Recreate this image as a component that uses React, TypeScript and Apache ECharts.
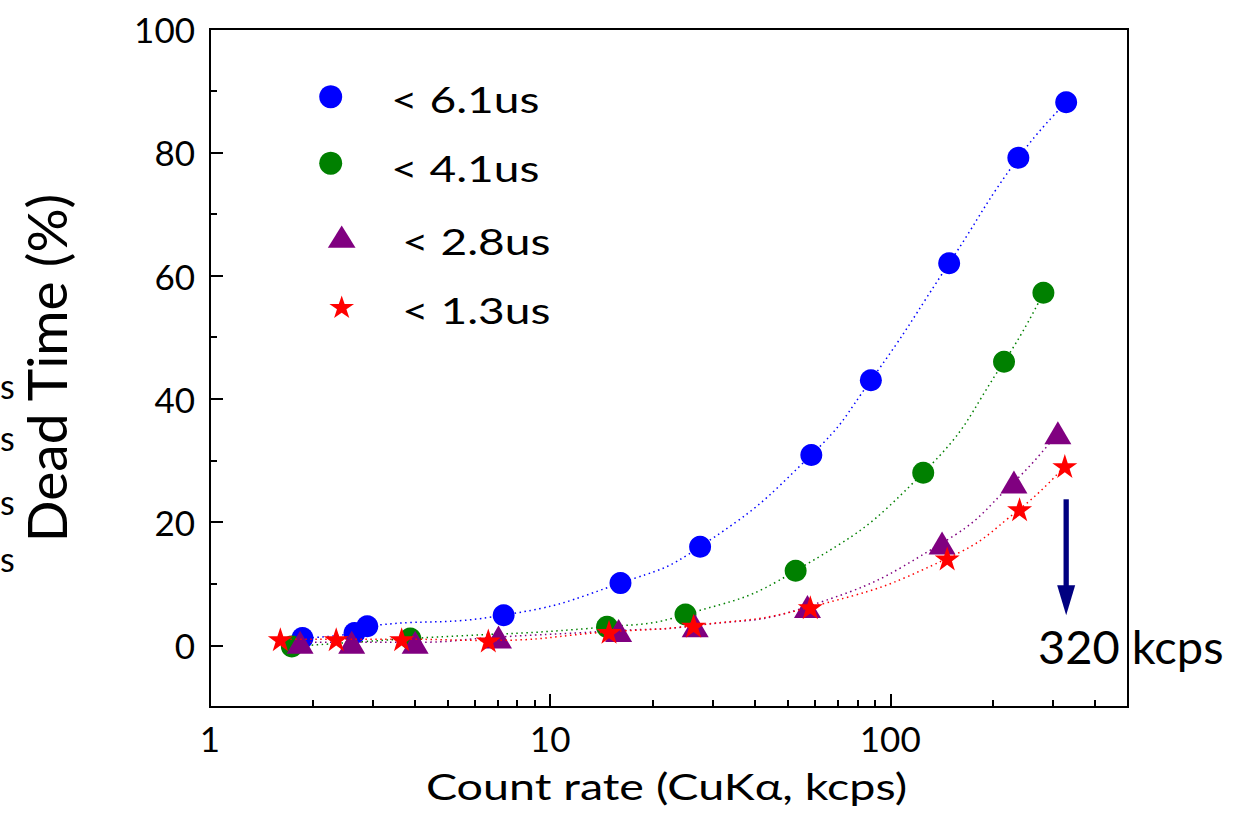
import { useEffect, useRef } from 'react';
import * as echarts from 'echarts';

// ---------- data ----------
const SERIES_NAMES = ['< 6.1us', '< 4.1us', '< 2.8us', '< 1.3us'];

const blueX = [1.87, 2.66, 2.9, 7.3, 16.1, 27.6, 58.6, 87.7, 149, 238, 329];
const blueY = [1.2, 2.0, 3.1, 4.9, 10.1, 16.0, 30.9, 43.0, 62.0, 79.1, 88.1];

const greenX = [1.74, 3.88, 14.7, 25.0, 52.7, 125, 216, 282];
const greenY = [-0.2, 1.1, 3.0, 5.0, 12.1, 28.0, 46.0, 57.2];

const purpleX = [1.84, 2.61, 4.01, 7.05, 15.9, 26.7, 57.1, 142, 231, 311];
const purpleY = [0.5, 0.5, 0.5, 1.35, 2.4, 3.2, 6.3, 16.6, 26.5, 34.5];

const redX = [1.61, 2.35, 3.66, 6.58, 14.9, 26.4, 58.2, 147, 240, 326];
const redY = [1.0, 1.0, 1.0, 0.8, 2.2, 3.2, 6.2, 14.1, 22.1, 29.1];

const X_MINOR_TICKS = [2, 3, 4, 5, 6, 7, 8, 9, 20, 30, 40, 50, 60, 70, 80, 90, 200, 300, 400];
const Y_LABELS = [0, 20, 40, 60, 80, 100];
const Y_MINOR_TICKS = [10, 30, 50, 70, 90];

const ARROW_X = 329;
const ARROW_FROM = 23.7;
const ARROW_TO = 4.9;
const ARROW_LABEL = '320 kcps';

const Y_TITLE = 'Dead Time (%)';
const X_TITLE = 'Count rate (CuK\u03b1, kcps)';
const CLIPPED_TEXTS = ['s', 's', 's', 's'];

// ---------- styles ----------
const COLORS = ['#0000ff', '#008000', '#800080', '#ff0000'];
const FONT = 'Lato';
const STAR_PTS: [number, number][] = [
  [50, 0], [61.2, 34.5], [97.6, 34.5], [68.2, 55.9], [79.4, 90.5],
  [50, 69.1], [20.6, 90.5], [31.8, 55.9], [2.4, 34.5], [38.8, 34.5],
];
const STAR_PATH =
  'path://M' + STAR_PTS.map((p) => p[0] + ',' + p[1]).join(' L') + ' Z';

const zip = (xs: number[], ys: number[]) => xs.map((x, i) => [x, ys[i]]);

function starPolygon(cx: number, cy: number, w: number, h: number) {
  const minX = 2.4, maxX = 97.6, minY = 0, maxY = 90.5;
  return STAR_PTS.map(([px, py]) => [
    cx + ((px - minX) / (maxX - minX) - 0.5) * w,
    cy + ((py - minY) / (maxY - minY) - 0.5) * h,
  ]);
}

function txt(text: string, x: number, y: number, size: number, align: string, scaleX = 1) {
  return {
    type: 'text',
    x,
    y,
    scaleX,
    z: 10,
    silent: true,
    style: {
      text,
      x: 0,
      y: 0,
      font: `${size}px ${FONT}`,
      fill: '#000',
      align,
      verticalAlign: 'middle',
      textAlign: align,
      textVerticalAlign: 'middle',
    },
  };
}

export default function App() {
  const ref = useRef<HTMLDivElement>(null);

  useEffect(() => {
    if (!ref.current) return;
    const chart = echarts.init(ref.current, null, { renderer: 'svg' });

    const lineStyle = (c: string) => ({ color: c, width: 1.5, type: [1.5, 3.5] as any });

    const series = [
      { data: zip(blueX, blueY), symbol: 'circle', symbolSize: 22 },
      { data: zip(greenX, greenY), symbol: 'circle', symbolSize: 22 },
      { data: zip(purpleX, purpleY), symbol: 'triangle', symbolSize: [27, 23] },
      { data: zip(redX, redY), symbol: STAR_PATH, symbolSize: [25, 24] },
    ].map((s, i) => ({
      type: 'line',
      name: SERIES_NAMES[i],
      xAxisIndex: 0,
      yAxisIndex: 0,
      data: s.data,
      symbol: s.symbol,
      symbolSize: s.symbolSize,
      showSymbol: true,
      smooth: 0.5,
      itemStyle: { color: COLORS[i], opacity: 1 },
      lineStyle: lineStyle(COLORS[i]),
      emphasis: { disabled: true },
      silent: true,
      z: 2 + i,
    }));

    const axisLineStyle = { color: '#000', width: 2 };

    const option: any = {
      animation: false,
      backgroundColor: '#fff',
      grid: {
        left: 210,
        top: 29,
        right: 127,
        bottom: 128,
        show: true,
        borderColor: '#000',
        borderWidth: 2,
        backgroundColor: 'transparent',
        containLabel: false,
        outerBoundsMode: 'none',
      },
      xAxis: [
        {
          type: 'log',
          logBase: 10,
          min: 1,
          max: 500,
          position: 'bottom',
          axisLine: { show: true, onZero: false, lineStyle: axisLineStyle },
          axisTick: { show: true, inside: true, length: 13, lineStyle: axisLineStyle },
          axisLabel: {
            show: true,
            showMaxLabel: false,
            fontSize: 35,
            fontFamily: FONT,
            color: '#000',
            margin: 13,
          },
          splitLine: { show: false },
          minorTick: { show: false },
        },
        {
          type: 'value',
          min: 0,
          max: Math.log10(500),
          position: 'bottom',
          axisLine: { show: false, onZero: false },
          axisTick: {
            show: true,
            inside: true,
            length: 7,
            lineStyle: axisLineStyle,
            customValues: X_MINOR_TICKS.map((v) => Math.log10(v)),
          },
          axisLabel: { show: false },
          splitLine: { show: false },
        },
      ],
      yAxis: [
        {
          type: 'value',
          min: -10,
          max: 100,
          interval: 10,
          position: 'left',
          axisLine: { show: true, onZero: false, lineStyle: axisLineStyle },
          axisTick: {
            show: true,
            inside: true,
            length: 13,
            lineStyle: axisLineStyle,
            customValues: Y_LABELS,
          },
          axisLabel: {
            show: true,
            customValues: Y_LABELS,
            formatter: (v: number) => (v >= 0 && v % 20 === 0 ? String(v) : ''),
            fontSize: 35,
            fontFamily: FONT,
            color: '#000',
            margin: 15,
          },
          splitLine: { show: false },
          name: Y_TITLE,
          nameLocation: 'middle',
          nameGap: 137,
          nameTextStyle: { fontSize: 55, fontFamily: FONT, color: '#000' },
        },
        {
          type: 'value',
          min: -10,
          max: 100,
          interval: 10,
          position: 'left',
          axisLine: { show: false, onZero: false },
          axisTick: {
            show: true,
            inside: true,
            length: 7,
            lineStyle: axisLineStyle,
            customValues: Y_MINOR_TICKS,
          },
          axisLabel: { show: false },
          splitLine: { show: false },
        },
      ],
      series,
    };

    chart.setOption(option);

    // annotations & legend
    const g: any[] = [];
    const clippedY = [385, 437, 501, 558];
    CLIPPED_TEXTS.forEach((t, i) => g.push(txt(t, 0, clippedY[i], 34, 'left')));

    // legend
    const legendLayout = [
      { sx: 330.7, sy: 96.7, tx: 391, ty: 99.4 },
      { sx: 330.7, sy: 163.3, tx: 391, ty: 168 },
      { sx: 341.7, sy: 236.7, tx: 402, ty: 241.3 },
      { sx: 341.7, sy: 306.7, tx: 402, ty: 309.6 },
    ];
    legendLayout.forEach((l, i) => {
      if (i < 2) {
        g.push({ type: 'circle', shape: { cx: l.sx, cy: l.sy, r: 11.5 }, style: { fill: COLORS[i] }, z: 10, silent: true });
      } else if (i === 2) {
        const w = 27.7, h = 22.3;
        g.push({
          type: 'polygon',
          shape: { points: [[l.sx, l.sy - h / 2], [l.sx + w / 2, l.sy + h / 2], [l.sx - w / 2, l.sy + h / 2]] },
          style: { fill: COLORS[i] },
          z: 10,
          silent: true,
        });
      } else {
        g.push({ type: 'polygon', shape: { points: starPolygon(l.sx, l.sy, 24.7, 22.5) }, style: { fill: COLORS[i] }, z: 10, silent: true });
      }
      g.push(txt(SERIES_NAMES[i], l.tx, l.ty, 36, 'left', 1.28));
    });

    // x-axis title
    g.push(txt(X_TITLE, 666.5, 785.7, 37, 'center', 1.26));

    // arrow
    const p1 = chart.convertToPixel({ xAxisIndex: 0, yAxisIndex: 0 }, [ARROW_X, ARROW_FROM]) as number[];
    const p2 = chart.convertToPixel({ xAxisIndex: 0, yAxisIndex: 0 }, [ARROW_X, ARROW_TO]) as number[];
    const headH = 30, headW = 18, shaftW = 5.3;
    g.push({
      type: 'rect',
      shape: { x: p1[0] - shaftW / 2, y: p1[1], width: shaftW, height: p2[1] - headH + 4 - p1[1] },
      style: { fill: '#000080' },
      z: 10,
      silent: true,
    });
    g.push({
      type: 'polygon',
      shape: { points: [[p2[0] - headW / 2, p2[1] - headH], [p2[0] + headW / 2, p2[1] - headH], [p2[0], p2[1]]] },
      style: { fill: '#000080' },
      z: 10,
      silent: true,
    });
    g.push(txt(ARROW_LABEL, 1038, 646, 47, 'left'));

    chart.setOption({ graphic: { elements: g } });

    return () => chart.dispose();
  }, []);

  return (
    <div
      ref={ref}
      style={{ position: 'fixed', left: 0, top: 0, width: 1255, height: 835, background: '#fff' }}
    />
  );
}
